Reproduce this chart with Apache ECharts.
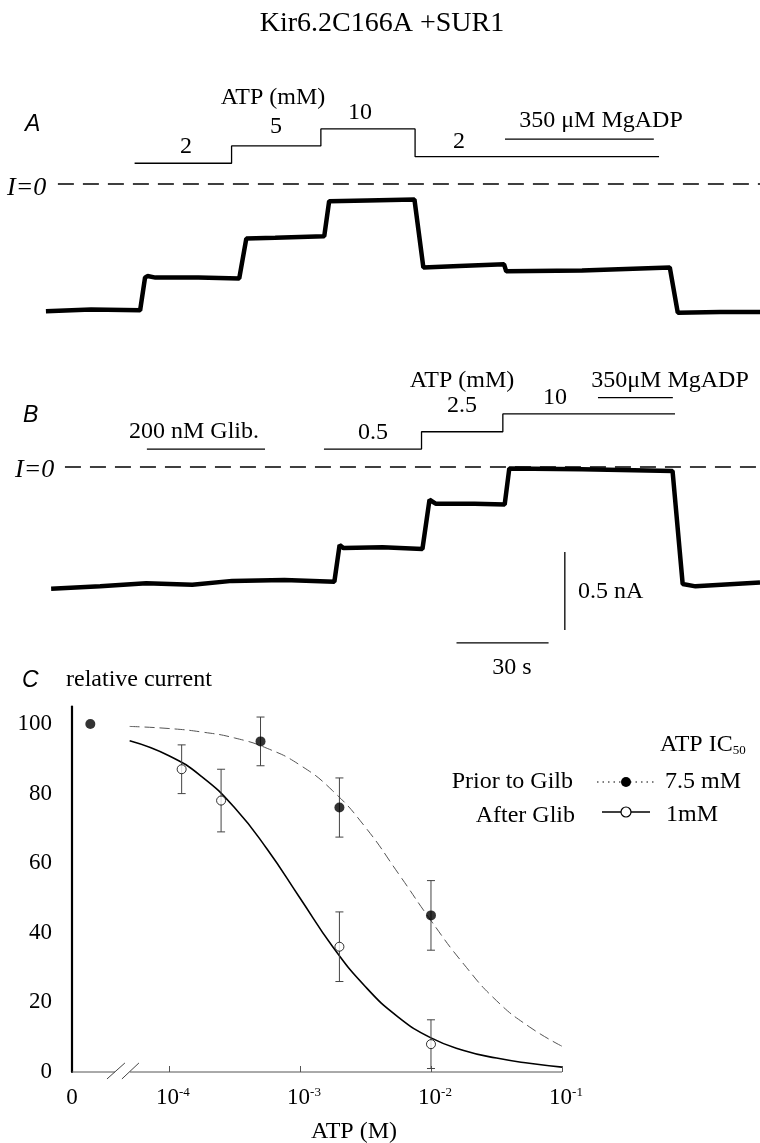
<!DOCTYPE html>
<html><head><meta charset="utf-8">
<script src="https://cdn.jsdelivr.net/npm/echarts@6/dist/echarts.min.js"></script>
<style>html,body{margin:0;padding:0;background:#fff}#c{width:760px;height:1143px}</style>
</head><body><div id="c"></div>
<script>
// ---------- Panel A : current trace (time in s, current in nA) ----------
const traceA_t = [0.3, 15, 31.0, 32.6, 33.4, 36, 50, 63.3, 65.6, 75, 91.0, 92.6, 105, 120.4, 123.3, 135, 149.6, 150.3, 175, 203.6, 206.2, 220, 233];
const traceA_i = [-0.815, -0.805, -0.81, -0.60, -0.59, -0.60, -0.60, -0.605, -0.35, -0.345, -0.335, -0.11, -0.105, -0.10, -0.535, -0.525, -0.515, -0.56, -0.555, -0.535, -0.825, -0.82, -0.82];
// ATP application protocol (step boundaries in s, step level)
const atpA_t = [29.2, 60.8, 89.9, 120.6, 200.1];
const atpA_lvl = [0.133, 0.244, 0.353, 0.175];
const mgadpA_t = [149.9, 198.4];
const mgadpA_lvl = 0.288;
const zeroA_t = [4.2, 233];

// ---------- Panel B ----------
const traceB_t = [2, 18, 33, 48, 61, 78, 94.3, 96.0, 97.3, 110, 123, 125.3, 127.3, 140, 149.8, 151.3, 175, 204.5, 207.8, 212, 233];
const traceB_i = [-0.78, -0.765, -0.745, -0.755, -0.73, -0.725, -0.735, -0.50, -0.52, -0.515, -0.525, -0.21, -0.235, -0.235, -0.24, -0.01, -0.015, -0.025, -0.75, -0.765, -0.74];
const glibB_t = [33.2, 71.7];
const glibB_lvl = 0.115;
const atpB_t = [90.9, 122.7, 149.2, 205.3];
const atpB_lvl = [0.115, 0.226, 0.34];
const mgadpB_t = [180.2, 204.6];
const mgadpB_lvl = 0.445;
const zeroB_t = [6.5, 233];
// scale bars: 30 s and 0.5 nA
const scaleTime = 30, scaleCurrent = 0.5;
const scaleH_start = [134.1, -1.128];
const scaleV_start = [169.4, -1.045];

// ---------- Panel C : ATP dose response ----------
const ZERO_POS = -4.6; // axis position standing for 0 ATP (broken axis)
const priorATP = [0, 5e-4, 2e-3, 1e-2];
const priorRel = [100, 95, 76, 45];
const priorErr = [0, 7, 8.5, 10];
const afterATP = [1.25e-4, 2.5e-4, 2e-3, 1e-2];
const afterRel = [87, 78, 36, 8];
const afterErr = [7, 9, 10, 7];
const curveLogATP = [-4.3, -4.0, -3.75, -3.5, -3.25, -3.0, -2.75, -2.5, -2.25, -2.0, -1.75, -1.5, -1.25, -1.0];
const curvePrior = [99.3, 98.7, 97.7, 96.0, 93.0, 88.2, 80.8, 70.3, 57.1, 43.5, 31, 20.5, 13, 7.4];
const curveAfter = [95.2, 90.9, 84.9, 76.0, 64.0, 50.0, 36.0, 24.5, 15.8, 9.8, 6.2, 4.0, 2.5, 1.4];
const xTickLog = [-4, -3, -2, -1];
const yTicks = [0, 20, 40, 60, 80, 100];
const X_MIN = -4.74, X_MAX = -1;
const axisBreakSegs = [[[-4.74, 0], [-4.412, 0]], [[-4.298, 0], [-1, 0]]];
const axisBreakSlashes = [[[-4.473, -2], [-4.336, 2.6]], [[-4.359, -2], [-4.229, 2.6]]];

// ---------- helpers ----------
const SERIF = 'Liberation Serif', SANS = 'Liberation Sans';
const zip = (a, b) => a.map((v, i) => [v, b[i]]);
function steps(ts, lv) { const o = []; lv.forEach((l, i) => { o.push([ts[i], l], [ts[i + 1], l]); }); return o; }
const toAxis = c => c === 0 ? ZERO_POS : Math.log10(c);
function line(gi, data, color, width, type, z) {
  return { type: 'line', xAxisIndex: gi, yAxisIndex: gi, data, symbol: 'none', showSymbol: false, clip: false, silent: true, z: z || 2,
    lineStyle: { color, width, type: type || 'solid' }, animation: false };
}
function T(text, x, y, o) {
  o = o || {};
  return { type: 'text', x, y, z: 10, style: { text, fill: '#000', fontFamily: o.ff || SERIF, fontSize: o.fs || 24,
    fontStyle: o.it ? 'italic' : 'normal', textAlign: o.al || 'center', textVerticalAlign: 'middle', rich: o.rich } };
}

const chart = echarts.init(document.getElementById('c'), null, { renderer: 'canvas' });
const hidden = { show: false };

const series = [
  // A
  line(0, zip(zeroA_t, [0, 0]), '#000', 1.5, [16, 9]),
  line(0, steps(atpA_t, atpA_lvl), '#000', 1.3),
  line(0, zip(mgadpA_t, [mgadpA_lvl, mgadpA_lvl]), '#000', 1.3),
  line(0, zip(traceA_t, traceA_i), '#000', 4.5),
  // B
  line(1, zip(zeroB_t, [0, 0]), '#000', 1.5, [16, 9]),
  line(1, zip(glibB_t, [glibB_lvl, glibB_lvl]), '#000', 1.3),
  line(1, steps(atpB_t, atpB_lvl), '#000', 1.3),
  line(1, zip(mgadpB_t, [mgadpB_lvl, mgadpB_lvl]), '#000', 1.3),
  line(1, zip(traceB_t, traceB_i), '#000', 4.5),
  line(1, [scaleH_start, [scaleH_start[0] + scaleTime, scaleH_start[1]]], '#000', 1.3),
  line(1, [scaleV_start, [scaleV_start[0], scaleV_start[1] + scaleCurrent]], '#000', 1.3),
  // C axis with break
  ...axisBreakSegs.map(s => line(2, s, '#555', 1)),
  ...axisBreakSlashes.map(s => line(2, s, '#444', 1)),
  // fitted curves
  Object.assign(line(2, zip(curveLogATP, curvePrior), '#555', 1, [10, 5]), { smooth: 0.5 }),
  Object.assign(line(2, zip(curveLogATP, curveAfter), '#000', 1.6), { smooth: 0.5 }),
  // error bars
  {
    type: 'custom', xAxisIndex: 2, yAxisIndex: 2, z: 3, clip: false, silent: true, animation: false,
    data: [...priorATP.map((c, i) => [toAxis(c), priorRel[i] - priorErr[i], priorRel[i] + priorErr[i]]).filter((d, i) => priorErr[i] > 0),
           ...afterATP.map((c, i) => [toAxis(c), afterRel[i] - afterErr[i], afterRel[i] + afterErr[i]])],
    encode: { x: 0, y: [1, 2] },
    renderItem: (params, api) => {
      const x = api.value(0), a = api.coord([x, api.value(1)]), b = api.coord([x, api.value(2)]);
      const cap = 4, st = { stroke: '#444', lineWidth: 1 };
      return { type: 'group', children: [
        { type: 'line', shape: { x1: a[0], y1: a[1], x2: b[0], y2: b[1] }, style: st },
        { type: 'line', shape: { x1: a[0] - cap, y1: a[1], x2: a[0] + cap, y2: a[1] }, style: st },
        { type: 'line', shape: { x1: b[0] - cap, y1: b[1], x2: b[0] + cap, y2: b[1] }, style: st }] };
    }
  },
  { type: 'scatter', xAxisIndex: 2, yAxisIndex: 2, z: 5, silent: true, animation: false, symbolSize: 10,
    data: priorATP.map((c, i) => [toAxis(c), priorRel[i]]), itemStyle: { color: '#000' } },
  { type: 'scatter', xAxisIndex: 2, yAxisIndex: 2, z: 5, silent: true, animation: false, symbolSize: 9,
    data: afterATP.map((c, i) => [toAxis(c), afterRel[i]]), itemStyle: { color: '#fff', borderColor: '#000', borderWidth: 1 } }
];

const graphic = [
  T('Kir6.2C166A +SUR1', 382, 24, { fs: 28 }),
  // A
  T('A', 25, 125, { ff: SANS, it: true, fs: 23, al: 'left' }),
  T('I=0', 7, 188, { it: true, al: 'left', fs: 26 }),
  T('ATP (mM)', 273, 98),
  T('2', 186, 147), T('5', 276, 127), T('10', 360, 113), T('2', 459, 142),
  T('350 μM MgADP', 601, 121),
  // B
  T('B', 23, 416, { ff: SANS, it: true, fs: 23, al: 'left' }),
  T('I=0', 15, 470, { it: true, al: 'left', fs: 26 }),
  T('200 nM Glib.', 194, 432),
  T('0.5', 373, 433),
  T('ATP (mM)', 462, 381), T('2.5', 462, 406), T('10', 555, 398),
  T('350μM MgADP', 670, 381),
  T('0.5 nA', 578, 592, { al: 'left' }),
  T('30 s', 512, 668),
  // C
  T('C', 22, 681, { ff: SANS, it: true, fs: 23, al: 'left' }),
  T('relative current', 66, 680, { al: 'left' }),
  T('ATP (M)', 354, 1132),
  // legend
  T('{a|ATP IC}{s|50}', 660, 745, { al: 'left', rich: { a: { fontFamily: SERIF, fontSize: 24, fill: '#000' }, s: { fontFamily: SERIF, fontSize: 13, verticalAlign: 'bottom', fill: '#000' } } }),
  T('Prior to Gilb', 573, 782, { al: 'right' }),
  { type: 'line', shape: { x1: 597, y1: 782, x2: 655, y2: 782 }, style: { stroke: '#000', lineWidth: 1, lineDash: [1.5, 4] }, z: 10 },
  { type: 'circle', shape: { cx: 626, cy: 782, r: 5 }, style: { fill: '#000' }, z: 11 },
  T('7.5 mM', 665, 782, { al: 'left' }),
  T('After Glib', 575, 816, { al: 'right' }),
  { type: 'line', shape: { x1: 602, y1: 812, x2: 650, y2: 812 }, style: { stroke: '#000', lineWidth: 1.3 }, z: 10 },
  { type: 'circle', shape: { cx: 626, cy: 812, r: 5 }, style: { fill: '#fff', stroke: '#000', lineWidth: 1.2 }, z: 11 },
  T('1mM', 666, 815, { al: 'left' })
];

chart.setOption({
  animation: false,
  backgroundColor: '#fff',
  grid: [
    { left: 45, width: 715, top: 90.4, height: 249.6 },
    { left: 45, width: 715, top: 373.4, height: 280.8 },
    { left: 72, width: 490, top: 706.6, height: 365.4 }
  ],
  xAxis: [
    { type: 'value', gridIndex: 0, min: 0, max: 233, show: false },
    { type: 'value', gridIndex: 1, min: 0, max: 233, show: false },
    { type: 'value', gridIndex: 2, min: X_MIN, max: X_MAX, splitLine: hidden,
      axisLine: { show: false },
      axisTick: { show: true, inside: true, length: 6, customValues: xTickLog, lineStyle: { color: '#555', width: 1 } },
      axisLabel: { customValues: [X_MIN, ...xTickLog], margin: 14, color: '#000',
        formatter: v => v < -4.5 ? '{n|0}' : '{m|10}{s|' + Math.round(v) + '}',
        rich: { n: { fontFamily: SERIF, fontSize: 23, color: '#000', lineHeight: 24 },
                m: { fontFamily: SERIF, fontSize: 23, color: '#000', lineHeight: 24, padding: [0, 0, 0, 8] },
                s: { fontFamily: SERIF, fontSize: 13, color: '#000', verticalAlign: 'top', lineHeight: 14 } } } }
  ],
  yAxis: [
    { type: 'value', gridIndex: 0, min: -1.0, max: 0.6, show: false },
    { type: 'value', gridIndex: 1, min: -1.2, max: 0.6, show: false },
    { type: 'value', gridIndex: 2, min: 0, max: 105, splitLine: hidden,
      axisLine: { show: true, lineStyle: { color: '#000', width: 2.2 } },
      axisTick: { show: false },
      axisLabel: { customValues: yTicks, margin: 20, color: '#000', fontFamily: SERIF, fontSize: 23 } }
  ],
  series,
  graphic
});
</script></body></html>
